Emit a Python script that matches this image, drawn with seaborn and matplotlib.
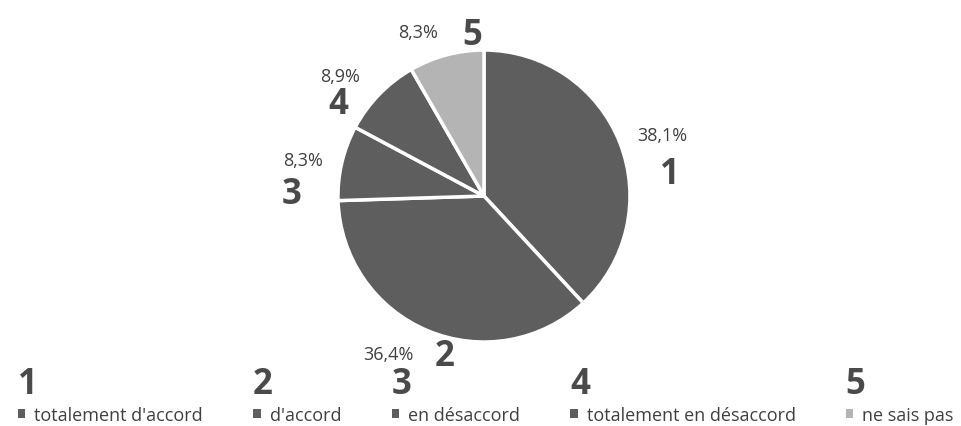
import seaborn as sns
import matplotlib.pyplot as plt
from matplotlib.patches import Patch

categories = ["totalement d'accord", "d'accord", "en désaccord", "totalement en désaccord", "ne sais pas"]
shares = [38.1, 36.4, 8.3, 8.9, 8.3]
marks = ['1', '2', '3', '4', '5']

sns.set_theme(style='white')
plt.rcParams['font.family'] = ['Open Sans', 'DejaVu Sans']

colors = ['#5e5e5e', '#5e5e5e', '#5e5e5e', '#5e5e5e', '#b4b4b4']
text_col = '#404040'
mark_col = '#4a4a4a'

fig = plt.figure(figsize=(9.62, 4.27), dpi=100)
ax = fig.add_axes([0.3134, 0.1112, 0.3794, 0.8548])

wedges, texts, autotexts = ax.pie(
    shares, colors=colors, startangle=90, counterclock=False,
    autopct=lambda p: f'{p:.1f}%'.replace('.', ','), pctdistance=1.27,
    wedgeprops=dict(edgecolor='white', linewidth=2.5),
    textprops=dict(color=text_col, fontsize=13),
)
ax.set_xlim(-1.25, 1.25)
ax.set_ylim(-1.25, 1.25)
ax.set_aspect('equal')
ax.axis('off')

# nudge the percent labels (pixels) the way the best-fit layout put them
label_nudge = [(6, -7), (-24, 13), (0, -6), (-11, -9), (-18, -15)]
# handwritten numbers relative to each percent label (pixels)
mark_offsets = [(7, -39), (56, -2), (-12, -34), (-2, -28), (54, -3)]

for t, m, nudge, off in zip(autotexts, marks, label_nudge, mark_offsets):
    x, y = ax.transData.transform(t.get_position())
    x, y = x + nudge[0], y + nudge[1]
    t.set_position(ax.transData.inverted().transform((x, y)))
    ax.annotate(m, xy=t.get_position(), xytext=off, textcoords='offset pixels',
                ha='center', va='center', fontsize=25, fontweight='bold',
                color=mark_col)

handles = [Patch(facecolor=c, edgecolor='none') for c in colors]
leg = fig.legend(handles, categories, loc='center', bbox_to_anchor=(0.505, 0.025),
                 ncol=5, frameon=False, fontsize=13, handlelength=0.4, handleheight=0.4,
                 handletextpad=0.5, columnspacing=2.8, labelcolor=text_col)

fig.canvas.draw()
for h, m in zip(leg.legend_handles, marks):
    bb = h.get_window_extent()
    cx = (bb.x0 + bb.x1) / 2 + 6
    cy = (bb.y0 + bb.y1) / 2 + 30
    fig.text(cx / fig.bbox.width, cy / fig.bbox.height, m, ha='center', va='center',
             fontsize=25, fontweight='bold', color=mark_col)

fig.savefig('out.png', dpi=100)
